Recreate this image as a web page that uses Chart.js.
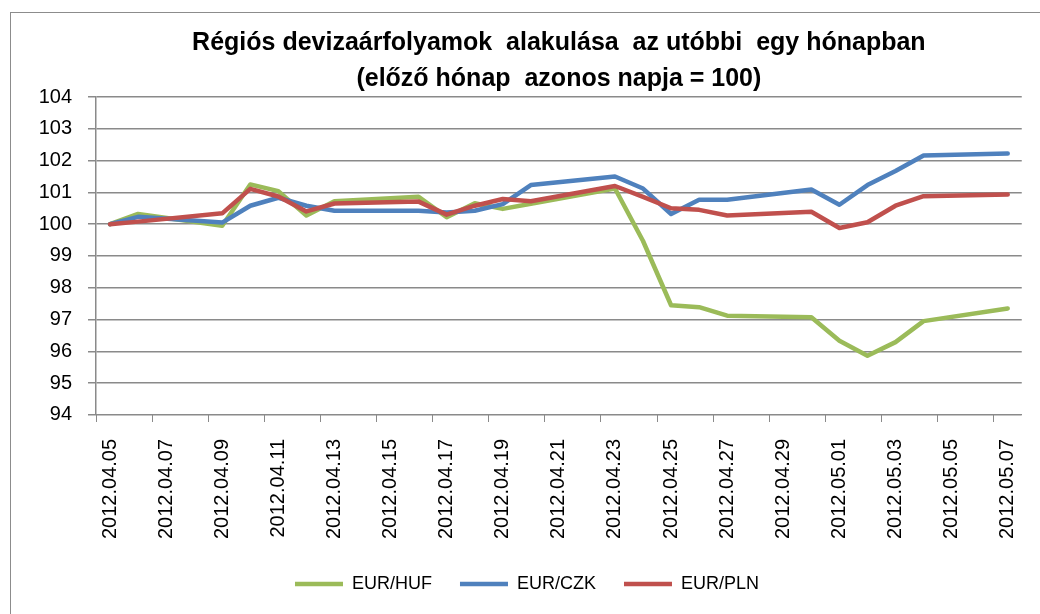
<!DOCTYPE html>
<html>
<head>
<meta charset="utf-8">
<script src="https://cdn.jsdelivr.net/npm/chart.js@4/dist/chart.umd.min.js"></script>
<style>
  html, body { margin: 0; padding: 0; background: #fff; }
  #wrap { position: relative; width: 1040px; height: 614px; overflow: hidden; }
</style>
</head>
<body>
<div id="wrap"><canvas id="c" width="1040" height="614"></canvas></div>
<script>
const titleLines = ['Régiós devizaárfolyamok  alakulása  az utóbbi  egy hónapban', '(előző hónap  azonos napja = 100)'];

const dates = [
  '2012.04.05','2012.04.06','2012.04.07','2012.04.08','2012.04.09','2012.04.10','2012.04.11',
  '2012.04.12','2012.04.13','2012.04.14','2012.04.15','2012.04.16','2012.04.17','2012.04.18',
  '2012.04.19','2012.04.20','2012.04.21','2012.04.22','2012.04.23','2012.04.24','2012.04.25',
  '2012.04.26','2012.04.27','2012.04.28','2012.04.29','2012.04.30','2012.05.01','2012.05.02',
  '2012.05.03','2012.05.04','2012.05.05','2012.05.06','2012.05.07'
];

const eurHuf = [100.00, 100.32, null, null, 99.95, 101.25, 101.04, 100.27, 100.72, null, null,
  100.86, 100.22, 100.66, 100.48, 100.64, null, null, 101.12, 99.47, 97.45, 97.39, 97.12,
  null, null, 97.07, 96.33, 95.86, 96.29, 96.95, null, null, 97.35];

const eurCzk = [100.00, 100.23, null, null, 100.05, 100.58, 100.83, 100.58, 100.42, null, null,
  100.42, 100.37, 100.42, 100.63, 101.23, null, null, 101.50, 101.12, 100.32, 100.77, 100.77,
  null, null, 101.09, 100.61, 101.23, 101.67, 102.16, null, null, 102.22];

const eurPln = [100.00, 100.08, null, null, 100.34, 101.11, 100.87, 100.40, 100.65, null, null,
  100.71, 100.30, 100.58, 100.79, 100.72, null, null, 101.20, 100.86, 100.50, 100.45, 100.27,
  null, null, 100.39, 99.88, 100.06, 100.58, 100.88, null, null, 100.93];

const yMin = 94, yMax = 104, yStep = 1;

const GRID = '#8a8a8a';
const FONT = "'Liberation Sans', Arial, sans-serif";

const borderPlugin = {
  id: 'outerBorder',
  beforeDraw(chart) {
    const ctx = chart.ctx;
    ctx.save();
    ctx.fillStyle = '#ffffff';
    ctx.fillRect(0, 0, chart.width, chart.height);
    ctx.strokeStyle = '#8c8c8c';
    ctx.lineWidth = 1;
    ctx.strokeRect(10.5, 12.5, chart.width + 20, chart.height + 20);
    ctx.restore();
  }
};

function ds(label, data, color) {
  return {
    label, data,
    borderColor: color, backgroundColor: color,
    borderWidth: 4.5, pointRadius: 0, pointHoverRadius: 0,
    tension: 0, spanGaps: true, fill: false,
    borderCapStyle: 'round', borderJoinStyle: 'round'
  };
}

new Chart(document.getElementById('c'), {
  type: 'line',
  data: {
    labels: dates,
    datasets: [
      ds('EUR/PLN', eurPln, '#C0504D'),
      ds('EUR/CZK', eurCzk, '#4F81BD'),
      ds('EUR/HUF', eurHuf, '#9BBB59')
    ]
  },
  plugins: [borderPlugin],
  options: {
    responsive: false,
    animation: false,
    devicePixelRatio: 1,
    layout: { padding: { left: 32, right: 18, top: 0, bottom: 11 } },
    plugins: {
      tooltip: { enabled: false },
      title: {
        display: true,
        text: titleLines,
        fullSize: false,
        color: '#000',
        font: { family: FONT, weight: 'bold', size: 25, lineHeight: 1.44 },
        padding: { top: 25, bottom: 0 }
      },
      legend: {
        position: 'bottom',
        reverse: true,
        labels: {
          usePointStyle: true,
          pointStyle: 'line',
          pointStyleWidth: 48,
          padding: 28,
          color: '#000',
          font: { family: FONT, size: 18 }
        }
      }
    },
    scales: {
      x: {
        offset: true,
        grid: {
          offset: true,
          drawOnChartArea: false,
          drawTicks: true,
          tickLength: 16,
          tickBorderDash: [7, 60],
          lineWidth: 1,
          color: (c) => (c.index !== undefined && c.index % 2 === 0) ? GRID : 'rgba(0,0,0,0)'
        },
        border: { display: true, color: GRID, width: 1 },
        ticks: {
          autoSkip: false,
          minRotation: 90,
          maxRotation: 90,
          padding: 8,
          color: '#000',
          font: { family: FONT, size: 20 },
          callback: function (v, i) { return i % 2 === 0 ? this.getLabelForValue(v) : ''; }
        }
      },
      y: {
        min: yMin, max: yMax,
        afterFit(scale) { scale.width = 64; },
        grid: { color: GRID, lineWidth: 1.5, tickLength: 8 },
        border: { display: true, color: GRID, width: 1.5 },
        ticks: {
          stepSize: yStep,
          padding: 16,
          color: '#000',
          font: { family: FONT, size: 20 }
        }
      }
    }
  }
});
</script>
</body>
</html>
